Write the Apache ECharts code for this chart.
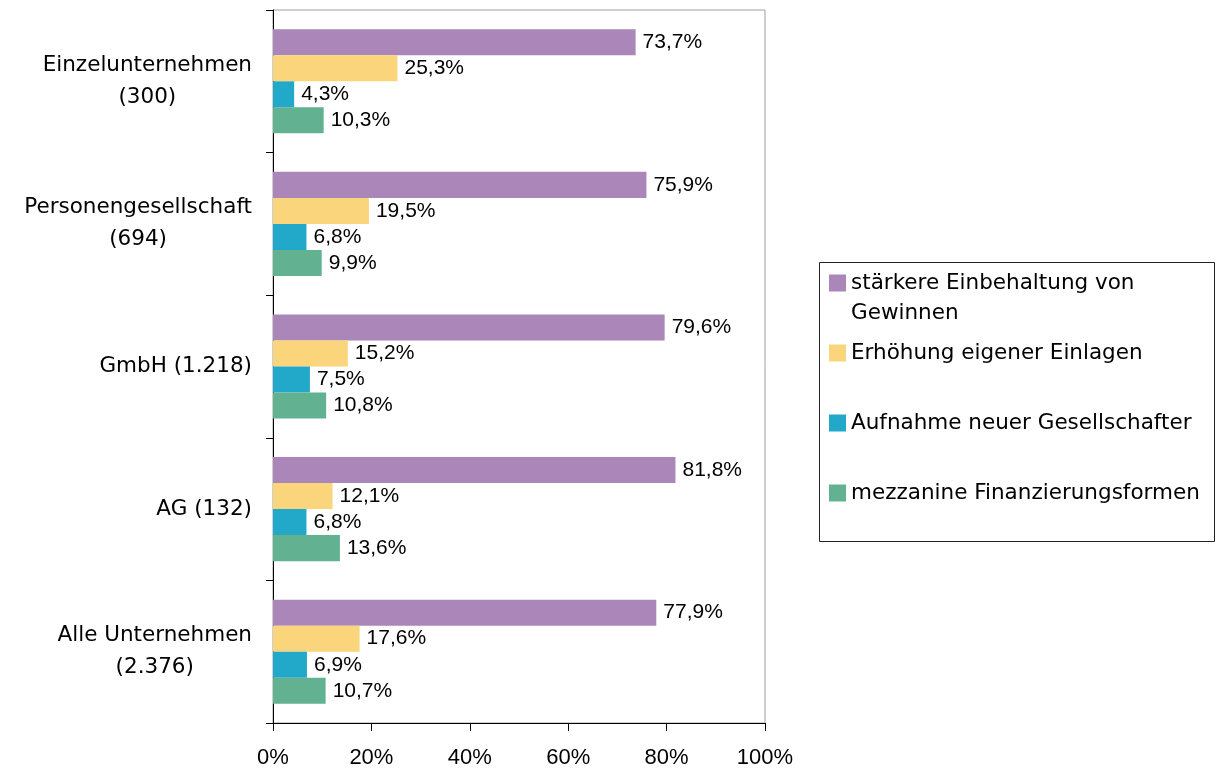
<!DOCTYPE html>
<html>
<head>
<meta charset="utf-8">
<script src="https://cdn.jsdelivr.net/npm/echarts@6/dist/echarts.min.js"></script>
<style>
  html, body { margin: 0; padding: 0; background: #ffffff; }
  #chart { width: 1218px; height: 771px; }
</style>
</head>
<body>
<div id="chart"></div>
<script>
// Rechtsformen (Anzahl der Unternehmen in Klammern)
const categories = [
  'Einzelunternehmen\n(300)',
  'Personengesellschaft\n(694)',
  'GmbH (1.218)',
  'AG (132)',
  'Alle Unternehmen\n(2.376)'
];

// Maßnahmen zur Stärkung des Eigenkapitals
const seriesNames = [
  'stärkere Einbehaltung von Gewinnen',
  'Erhöhung eigener Einlagen',
  'Aufnahme neuer Gesellschafter',
  'mezzanine Finanzierungsformen'
];

// Anteile in Prozent je Rechtsform
const gewinneValues        = [73.7, 75.9, 79.6, 81.8, 77.9];
const einlagenValues       = [25.3, 19.5, 15.2, 12.1, 17.6];
const gesellschafterValues = [4.3, 6.8, 7.5, 6.8, 6.9];
const mezzanineValues      = [10.3, 9.9, 10.8, 13.6, 10.7];

// Achsenbereich der Prozentskala
const xMin = 0;
const xMax = 100;
const xStep = 20;

const seriesColors = ['#aa86b9', '#fad57c', '#22a8c8', '#62b292'];
const seriesValues = [gewinneValues, einlagenValues, gesellschafterValues, mezzanineValues];

const numFont = '"Liberation Sans", Arial, sans-serif';
const textFont = '"DejaVu Sans", sans-serif';

const fmtPct = v => v.toFixed(1).replace('.', ',') + '%';

const series = seriesNames.map((name, i) => ({
  name: name,
  type: 'bar',
  data: seriesValues[i],
  barGap: 0,
  barCategoryGap: '27%',
  itemStyle: { color: seriesColors[i] },
  label: {
    show: true,
    position: 'right',
    distance: 7,
    color: '#000',
    fontFamily: numFont,
    fontSize: 21,
    formatter: p => fmtPct(p.value)
  },
  emphasis: { disabled: true },
  animation: false
}));

// Legend entries, one block per series, stacked inside a common frame.
// The long first entry wraps onto a second line; a leading empty line keeps
// its first text line level with the colour square.
const legendCenters = [283, 353, 423, 493];
const legends = seriesNames.map((name, i) => {
  const twoLines = i === 0;
  return {
    data: [name],
    orient: 'vertical',
    left: 829,
    top: legendCenters[i] - (twoLines ? 45 : 15),
    padding: 0,
    itemWidth: 17,
    itemHeight: 17,
    icon: 'rect',
    selectedMode: false,
    formatter: n => twoLines ? '\n' + n.replace(' Gewinnen', '\nGewinnen') : n,
    textStyle: {
      fontFamily: textFont,
      fontSize: 21.5,
      color: '#000',
      lineHeight: 30
    }
  };
});

const chart = echarts.init(document.getElementById('chart'), null, { renderer: 'canvas' });

chart.setOption({
  backgroundColor: '#ffffff',
  animation: false,
  grid: {
    left: 273,
    top: 10,
    right: 453,
    bottom: 48,
    show: true,
    borderColor: '#a0a0a0',
    borderWidth: 1,
    containLabel: false
  },
  xAxis: {
    type: 'value',
    min: xMin,
    max: xMax,
    interval: xStep,
    axisLine: { show: true, lineStyle: { color: '#000', width: 1 } },
    axisTick: { show: true, length: 8, lineStyle: { color: '#000' } },
    splitLine: { show: false },
    axisLabel: {
      margin: 24,
      color: '#000',
      fontFamily: numFont,
      fontSize: 22,
      formatter: v => v + '%'
    }
  },
  yAxis: {
    type: 'category',
    data: categories,
    inverse: true,
    axisLine: { show: true, lineStyle: { color: '#000', width: 1 } },
    axisTick: { show: true, length: 7, lineStyle: { color: '#000' } },
    splitLine: { show: false },
    axisLabel: {
      margin: 21,
      color: '#000',
      align: 'right',
      formatter: v => v.split('\n').map(s => '{c|' + s + '}').join('\n'),
      rich: {
        c: {
          align: 'center',
          fontFamily: textFont,
          fontSize: 21.5,
          lineHeight: 32,
          color: '#000'
        }
      }
    }
  },
  legend: legends,
  graphic: [{
    type: 'rect',
    shape: { x: 819.5, y: 262.5, width: 395, height: 279 },
    style: { fill: 'none', stroke: '#222', lineWidth: 1 },
    silent: true
  }],
  series: series
});
</script>
</body>
</html>
